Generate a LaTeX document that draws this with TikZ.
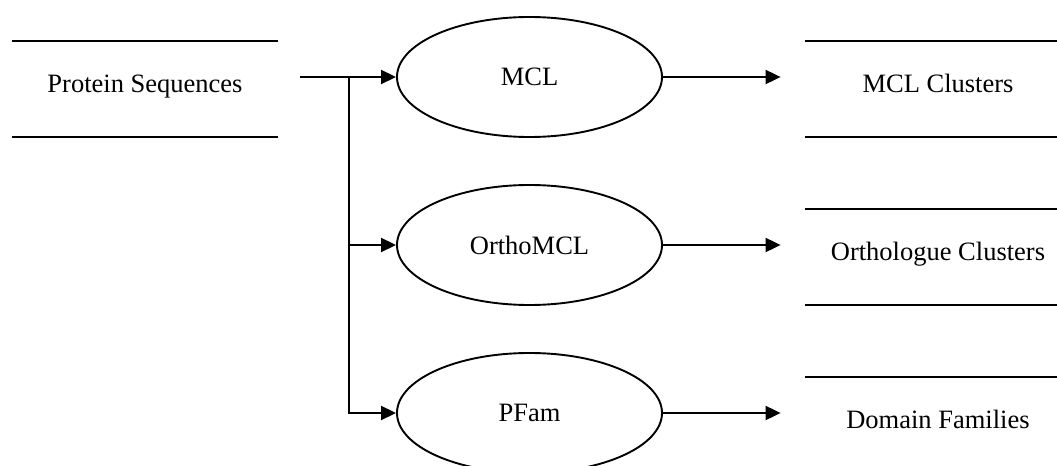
\documentclass[tikz,border=0pt]{standalone}
\usepackage{fontspec}
\setmainfont{Liberation Serif}
\usetikzlibrary{shapes.geometric,arrows.meta}
\begin{document}
\begin{tikzpicture}[x=0.5pt,y=-0.5pt,
  every node/.style={font=\fontsize{13.25}{15}\selectfont},
  proc/.style={ellipse,draw,line width=0.95pt,minimum width=132.5pt,minimum height=60pt,inner sep=0pt},
  store/.style={minimum width=133pt,minimum height=48pt,inner sep=0pt,text height=0.7em,text depth=0.4em},
  flow/.style={line width=0.95pt,-{Triangle[length=7.5pt,width=7pt]}},
  rule/.style={line width=1pt}]
\clip (0,0) rectangle (1057,466);
\useasboundingbox (0,0) rectangle (1057,466);
% data stores
\node[store] (ps) at (145,89) {Protein Sequences};
\node[store] (mclc) at (938,89) {MCL Clusters};
\node[store] (oc) at (938,257) {Orthologue Clusters};
\node[store] (df) at (938,425) {Domain Families};
\foreach \s in {ps,mclc,oc,df}{
  \draw[rule] (\s.north west) -- (\s.north east);
  \draw[rule] (\s.south west) -- (\s.south east);
}
% processes
\node[proc] (mcl) at (529.5,77) {MCL};
\node[proc] (ortho) at (529.5,245) {OrthoMCL};
\node[proc] (pfam) at (529.5,413) {PFam};
% connectors
\coordinate (src) at (300,77);
\coordinate (j) at (349,77);
\draw[flow] (src) -- (mcl.west);
\draw[flow] (j) |- (ortho.west);
\draw[flow] (j) |- (pfam.west);
\draw[flow,shorten >=12pt] (mcl.east) -- (mcl.east -| mclc.west);
\draw[flow,shorten >=12pt] (ortho.east) -- (ortho.east -| oc.west);
\draw[flow,shorten >=12pt] (pfam.east) -- (pfam.east -| df.west);
\end{tikzpicture}
\end{document}
